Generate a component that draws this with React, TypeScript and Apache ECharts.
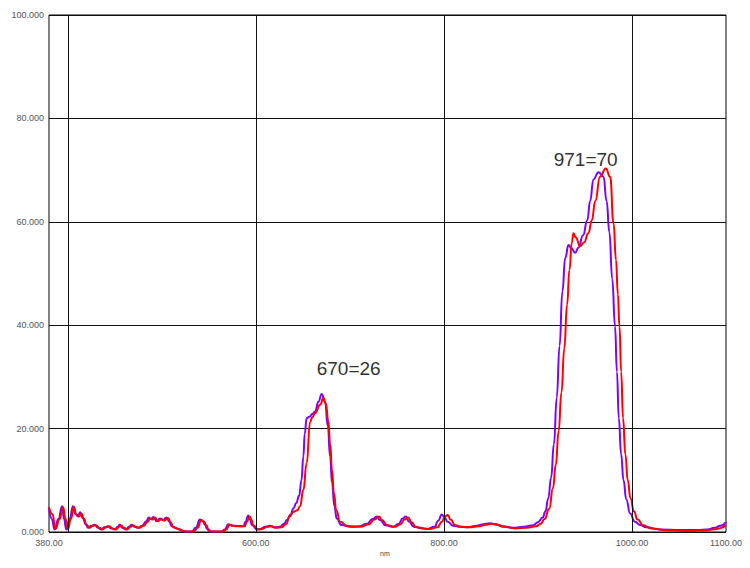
import React, { useEffect, useRef } from "react";
import * as echarts from "echarts";

// wavelength (nm), intensity
const purpleSeries: [number, number][] = [
  [380, 4.6], [383, 2.5], [386, 0.5], [390, 2.5], [394, 5.0], [396, 2.5], [398.4, 0.5],
  [402, 2.5], [405.5, 5.0], [408, 3.5], [411, 3.0], [413, 3.8], [416, 2.7], [419, 1.5],
  [421.5, 0.8], [425, 1.2], [428.6, 1.4], [432, 0.8], [435.6, 0.5], [439, 0.9], [442.8, 1.1],
  [446, 0.7], [450, 0.5], [453, 1.0], [455, 1.4], [458, 0.8], [462, 0.5], [465, 1.0],
  [467.6, 1.4], [471, 1.0], [474.7, 0.8], [479, 1.2], [483.5, 2.1], [486, 2.8], [488.8, 2.5],
  [491, 2.9], [494.6, 2.1], [498, 2.6], [501, 2.3], [505, 2.8], [508, 2.0], [510.5, 1.1],
  [514, 0.8], [517.6, 0.6], [521, 0.3], [524.7, 0.1], [532, 0.1], [536, 0.8], [540.6, 2.4],
  [543, 2.2], [546, 1.4], [548, 0.6], [551, 0.1], [563.7, 0.1], [567, 0.5], [570.7, 1.5],
  [574, 1.3], [577, 1.2], [586.7, 1.1], [589, 2.0], [592, 3.2], [594, 2.4], [595.6, 1.4],
  [601, 0.5], [605, 0.6], [610, 1.0], [615, 1.2], [620, 0.9], [625.7, 1.0], [630, 1.6],
  [633, 2.3], [637, 3.4], [640, 4.6], [643, 5.6], [646, 7.0], [648.5, 10], [650.5, 14.6],
  [652, 19], [654, 22], [657, 22.3], [660, 22.8], [663, 23.3], [666.5, 25.2], [670, 26.7],
  [673.6, 25.2], [676.5, 20.5], [679, 14.6], [681, 9.5], [683.5, 5.0], [686, 2.6], [691, 1.35],
  [700, 1.0], [710, 1.1], [718, 1.6], [724, 2.5], [728.6, 3.0], [732, 2.3], [738, 1.3],
  [746, 1.0], [752, 1.6], [756, 2.6], [759.4, 3.0], [763, 2.0], [768, 1.0], [774.7, 0.8],
  [782, 0.6], [790, 1.0], [794, 2.2], [797.7, 3.4], [800, 3.0], [804, 2.0], [810, 1.2],
  [817, 1.0], [825, 0.9], [835, 1.2], [842, 1.5], [849, 1.7], [855, 1.5], [862, 1.1],
  [874, 0.8], [885, 1.0], [895, 1.3], [900, 1.9], [905, 2.8], [908, 4.0], [911, 6.5],
  [914, 10.5], [917, 17], [920, 26], [923, 36], [926, 46.5], [929, 53], [932.5, 55.5],
  [935, 55], [939.6, 54], [943, 55], [948, 57.4], [952.5, 60.3], [955.5, 64], [959, 68.2],
  [964.4, 69.6], [969.7, 68.7], [973, 64], [976, 58], [979, 49], [982, 39.8], [984, 31],
  [986, 22], [988.5, 15], [991, 10], [994, 6.3], [998, 3.6], [1003, 2.0], [1008.7, 1.35],
  [1015, 0.9], [1030, 0.5], [1050, 0.4], [1070, 0.4], [1080, 0.5], [1088, 0.8], [1094, 1.2],
  [1100, 1.9],
];

const redSeries: [number, number][] = [
  [380, 4.8], [383.5, 3.5], [387, 0.6], [391, 2.4], [395, 4.8], [397.5, 2.6], [400, 0.6],
  [403.5, 2.6], [406.5, 4.9], [409, 3.4], [412, 3.0], [414.5, 3.6], [417, 2.6], [420, 1.4],
  [423, 0.8], [426.5, 1.2], [430, 1.3], [433.5, 0.8], [437, 0.5], [440.5, 0.9], [444, 1.1],
  [447.5, 0.7], [451.5, 0.5], [454.5, 1.0], [456.5, 1.3], [459.5, 0.8], [463.5, 0.5],
  [466.5, 1.0], [469, 1.3], [472.5, 1.0], [476, 0.8], [480.5, 1.2], [485, 2.0], [487.5, 2.6],
  [490.5, 2.4], [492.5, 2.8], [496, 2.1], [499.5, 2.5], [502.5, 2.2], [506.5, 2.7], [509.5, 1.9],
  [512, 1.0], [515.5, 0.7], [519, 0.5], [523, 0.2], [526, 0.1], [534, 0.1], [538, 0.8],
  [542, 2.3], [544.5, 2.1], [547.5, 1.3], [549.5, 0.5], [552.5, 0.1], [565, 0.1], [568.5, 0.5],
  [572, 1.4], [575.5, 1.2], [579, 1.1], [588, 1.1], [590.5, 2.0], [593.5, 3.0], [595.5, 2.3],
  [597, 1.3], [602.5, 0.5], [607, 0.6], [611.5, 1.0], [616.5, 1.1], [621.5, 0.8], [627, 0.9],
  [632, 1.5], [636, 3.0], [640, 3.9], [644, 4.2], [647, 5.0], [650.5, 8.1], [654, 13.3],
  [657.7, 21.3], [660, 22.2], [663, 23], [668.3, 24.6], [671.8, 25.9], [674.5, 24.8],
  [677, 21.5], [679, 17], [681, 12], [683, 7.5], [685.5, 4.2], [689.6, 2.0], [696.7, 1.2],
  [705, 1.0], [712, 1.0],
  [720, 1.5], [726, 2.4], [731, 3.0], [734, 2.3], [740, 1.3], [748, 1.0], [754, 1.5],
  [758, 2.4], [762, 2.8], [765.5, 1.9], [770, 1.0], [777, 0.7], [785, 0.6], [793, 0.9],
  [798, 2.0], [801, 3.0], [804, 3.3], [807, 2.4], [812, 1.3], [819, 1.0], [827, 0.9],
  [837, 1.1], [844, 1.4], [851, 1.6], [857, 1.4], [864, 1.0], [876, 0.7], [888, 0.8],
  [898, 1.1], [903, 1.6], [907, 2.5], [912, 4.5], [916, 8.5], [919, 13], [922, 19.5],
  [925, 27], [928, 35.5], [931, 44], [933.5, 50.7], [936, 56], [937.8, 57.8], [940, 57],
  [945, 55.3], [949, 56], [953.7, 57.8], [957.3, 60.3], [961, 64], [966, 68.7], [972.2, 70.3],
  [976.8, 68.7], [980.4, 59.7], [983, 52.6], [985, 46], [986.7, 39.8], [988.5, 31],
  [990.5, 22], [993, 15], [995.5, 10], [998.5, 6.5], [1002, 4.0], [1006, 2.4], [1012, 1.3],
  [1020, 0.7], [1040, 0.3], [1060, 0.2], [1080, 0.3], [1090, 0.6], [1100, 1.3],
];

const xLabelValues = [380, 600, 800, 1000, 1100];
const xGridValues = [400, 600, 800, 1000];
const annotations = [
  { x: 670, y: 26, text: "670=26", dx: 27, dy: -29 },
  { x: 971, y: 70, text: "971=70", dx: -19, dy: -11 },
];

export default function App() {
  const ref = useRef<HTMLDivElement>(null);
  useEffect(() => {
    if (!ref.current) return;
    const chart = echarts.init(ref.current, null, { renderer: "svg" });
    const font = "Liberation Sans";
    chart.setOption({
      animation: false,
      backgroundColor: "#fff",
      grid: {
        left: 49,
        right: 24,
        top: 15,
        bottom: 36,
        show: true,
        borderColor: "#000",
        borderWidth: 1,
      },
      xAxis: {
        type: "value",
        min: 380,
        max: 1100,
        interval: 20,
        axisLine: { show: false },
        axisTick: { show: false },
        splitLine: { show: false },
        axisLabel: {
          margin: 6,
          fontSize: 9,
          fontFamily: font,
          color: "#555",
          showMinLabel: true,
          showMaxLabel: true,
          formatter: (v: number) => (xLabelValues.includes(v) ? v.toFixed(2) : ""),
        },
      },
      yAxis: {
        type: "value",
        min: 0,
        max: 100,
        interval: 20,
        axisLine: { show: false },
        axisTick: { show: false },
        splitLine: { show: true, lineStyle: { color: "#111", width: 1 } },
        axisLabel: {
          margin: 5,
          fontSize: 9,
          fontFamily: font,
          color: "#555",
          formatter: (v: number) => v.toFixed(3),
        },
      },
      graphic: [
        {
          type: "text",
          left: 380,
          top: 550,
          style: { text: "nm", fontSize: 7, fill: "#444", fontFamily: font },
        },
      ],
      series: [
        {
          type: "line",
          data: purpleSeries,
          showSymbol: false,
          smooth: 0.5,
          smoothMonotone: "x",
          lineStyle: { color: "#7f00ff", width: 2 },
          itemStyle: { color: "#7f00ff" },
          markLine: {
            silent: true,
            symbol: "none",
            label: { show: false },
            lineStyle: { color: "#111", width: 1, type: "solid" },
            data: xGridValues.map((v) => ({ xAxis: v })),
          },
          markPoint: {
            symbol: "circle",
            symbolSize: 1,
            itemStyle: { color: "rgba(0,0,0,0)" },
            label: {
              show: true,
              position: "inside",
              color: "#333",
              fontSize: 19,
              fontFamily: font,
            },
            data: annotations.map((a) => ({
              coord: [a.x, a.y],
              value: a.text,
              label: { formatter: a.text, offset: [a.dx, a.dy] },
            })),
          },
        },
        {
          type: "line",
          data: redSeries,
          showSymbol: false,
          smooth: 0.5,
          smoothMonotone: "x",
          lineStyle: { color: "#ff0000", width: 2 },
          itemStyle: { color: "#ff0000" },
        },
      ],
    });
    return () => chart.dispose();
  }, []);
  return (
    <div
      ref={ref}
      style={{ position: "fixed", left: 0, top: 0, width: 750, height: 568, background: "#fff" }}
    />
  );
}
